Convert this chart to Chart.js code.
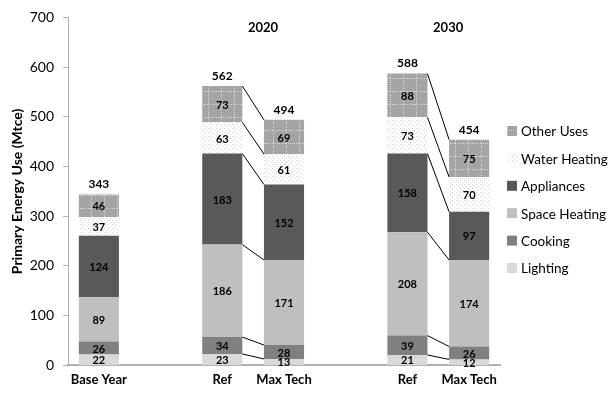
<!DOCTYPE html>
<html>
<head>
<meta charset="utf-8">
<script src="https://cdn.jsdelivr.net/npm/chart.js@4/dist/chart.umd.min.js"></script>
<style>
  html, body { margin: 0; padding: 0; background: #fff; }
  #wrap { width: 612px; height: 394px; }
</style>
</head>
<body>
<div id="wrap"><canvas id="myChart"></canvas></div>
<script>
// DATA (blank slots are the gaps between groups)
const categories = ["Base Year", "", "Ref", "Max Tech", "", "Ref", "Max Tech"];
const lighting     = [22, null, 23, 13, null, 21, 12];
const cooking      = [26, null, 34, 28, null, 39, 26];
const spaceHeating = [89, null, 186, 171, null, 208, 174];
const appliances   = [124, null, 183, 152, null, 158, 97];
const waterHeating = [37, null, 63, 61, null, 73, 70];
const otherUses    = [46, null, 73, 69, null, 88, 75];
const totals       = [343, null, 562, 494, null, 588, 454];
const yearLabels = ["2020", "2030"];
const yearRefIndex = [2, 5];
const compPairs = [[2, 3], [5, 6]];

const FONT = "Lato, 'Open Sans', sans-serif";

// fill patterns
function checkPattern() {
  const c = document.createElement('canvas');
  c.width = 13; c.height = 13;
  const g = c.getContext('2d');
  g.fillStyle = '#a4a4a4';
  g.fillRect(0, 0, 13, 13);
  g.fillStyle = '#d6d6d6';
  for (let i = 0; i < 13; i += 2) {
    g.fillRect(i, 0, 1, 1);
    g.fillRect(0, i, 1, 1);
  }
  return g.createPattern(c, 'repeat');
}

function dotPattern() {
  const c = document.createElement('canvas');
  c.width = 4; c.height = 4;
  const g = c.getContext('2d');
  g.fillStyle = '#ffffff';
  g.fillRect(0, 0, 4, 4);
  g.fillStyle = '#d2d2d2';
  g.fillRect(0, 0, 1, 1);
  g.fillRect(2, 2, 1, 1);
  return g.createPattern(c, 'repeat');
}

// labels, connector lines, year headings, legend
const extras = {
  id: 'extras',
  afterDatasetsDraw(chart) {
    const ctx = chart.ctx;
    const xs = chart.scales.x;
    const sets = chart.data.datasets;
    ctx.save();

    // connector lines between Ref and Max Tech
    ctx.strokeStyle = '#000';
    ctx.lineWidth = 1;
    sets.forEach((ds, i) => {
      const bars = chart.getDatasetMeta(i).data;
      compPairs.forEach(([a, b]) => {
        const ra = bars[a], rb = bars[b];
        ctx.beginPath();
        ctx.moveTo(ra.x + ra.width / 2, ra.y);
        ctx.lineTo(rb.x - rb.width / 2, rb.y);
        ctx.stroke();
      });
    });

    // segment values
    ctx.textAlign = 'center';
    ctx.textBaseline = 'middle';
    ctx.fillStyle = '#000';
    ctx.font = 'bold 11px ' + FONT;
    sets.forEach((ds, i) => {
      chart.getDatasetMeta(i).data.forEach((bar, j) => {
        if (ds.data[j] == null) return;
        ctx.fillText(ds.data[j], bar.x, (bar.y + bar.base) / 2 + 1);
      });
    });

    // totals
    const top = chart.getDatasetMeta(sets.length - 1).data;
    ctx.font = 'bold 12px ' + FONT;
    totals.forEach((t, j) => {
      if (t == null) return;
      ctx.fillText(t, top[j].x, top[j].y - 10);
    });

    // year headings
    ctx.font = 'bold 13px ' + FONT;
    const step = xs.getPixelForValue(1) - xs.getPixelForValue(0);
    yearLabels.forEach((y, k) => {
      ctx.fillText(y, xs.getPixelForValue(yearRefIndex[k]) + 0.66 * step, 28);
    });

    // legend (top item = last dataset)
    ctx.textAlign = 'left';
    ctx.font = '13.5px ' + FONT;
    for (let n = 0; n < sets.length; n++) {
      const ds = sets[sets.length - 1 - n];
      const cy = 131 + n * 27.4;
      ctx.fillStyle = ds.backgroundColor;
      ctx.fillRect(507, cy - 5, 10, 10);
      ctx.fillStyle = '#000';
      ctx.fillText(ds.label, 521, cy + 1);
    }
    ctx.restore();
  }
};

const ds = (label, data, color) => ({
  label: label,
  data: data,
  backgroundColor: color,
  borderWidth: 0,
  barPercentage: 0.65,
  categoryPercentage: 1.0
});

new Chart('myChart', {
  type: 'bar',
  data: {
    labels: categories,
    datasets: [
      ds('Lighting', lighting, '#d9d9d9'),
      ds('Cooking', cooking, '#808080'),
      ds('Space Heating', spaceHeating, '#bfbfbf'),
      ds('Appliances', appliances, '#595959'),
      ds('Water Heating', waterHeating, dotPattern()),
      ds('Other Uses', otherUses, checkPattern())
    ]
  },
  options: {
    responsive: true,
    maintainAspectRatio: false,
    animation: false,
    layout: { padding: { top: 12, bottom: -1, left: 4, right: 112 } },
    plugins: {
      tooltip: { enabled: false },
      legend: { display: false }
    },
    scales: {
      x: {
        stacked: true,
        grid: { display: false, drawTicks: false },
        border: { color: '#b0b0b0', width: 2 },
        ticks: {
          color: '#000',
          padding: 7,
          maxRotation: 0,
          autoSkip: false,
          font: { size: 13, weight: 'bold', family: FONT }
        }
      },
      y: {
        stacked: true,
        min: 0,
        max: 700,
        afterFit: (s) => { s.width = 64; },
        grid: { drawOnChartArea: false, tickLength: 5, color: '#b0b0b0' },
        border: { color: '#b0b0b0', width: 1 },
        ticks: {
          stepSize: 100,
          color: '#000',
          padding: 9,
          font: { size: 14, family: FONT }
        },
        title: {
          display: true,
          text: 'Primary Energy Use (Mtce)',
          color: '#000',
          padding: { top: 5, bottom: 0 },
          font: { size: 14, weight: 'bold', family: FONT }
        }
      }
    }
  },
  plugins: [extras]
});
</script>
</body>
</html>
